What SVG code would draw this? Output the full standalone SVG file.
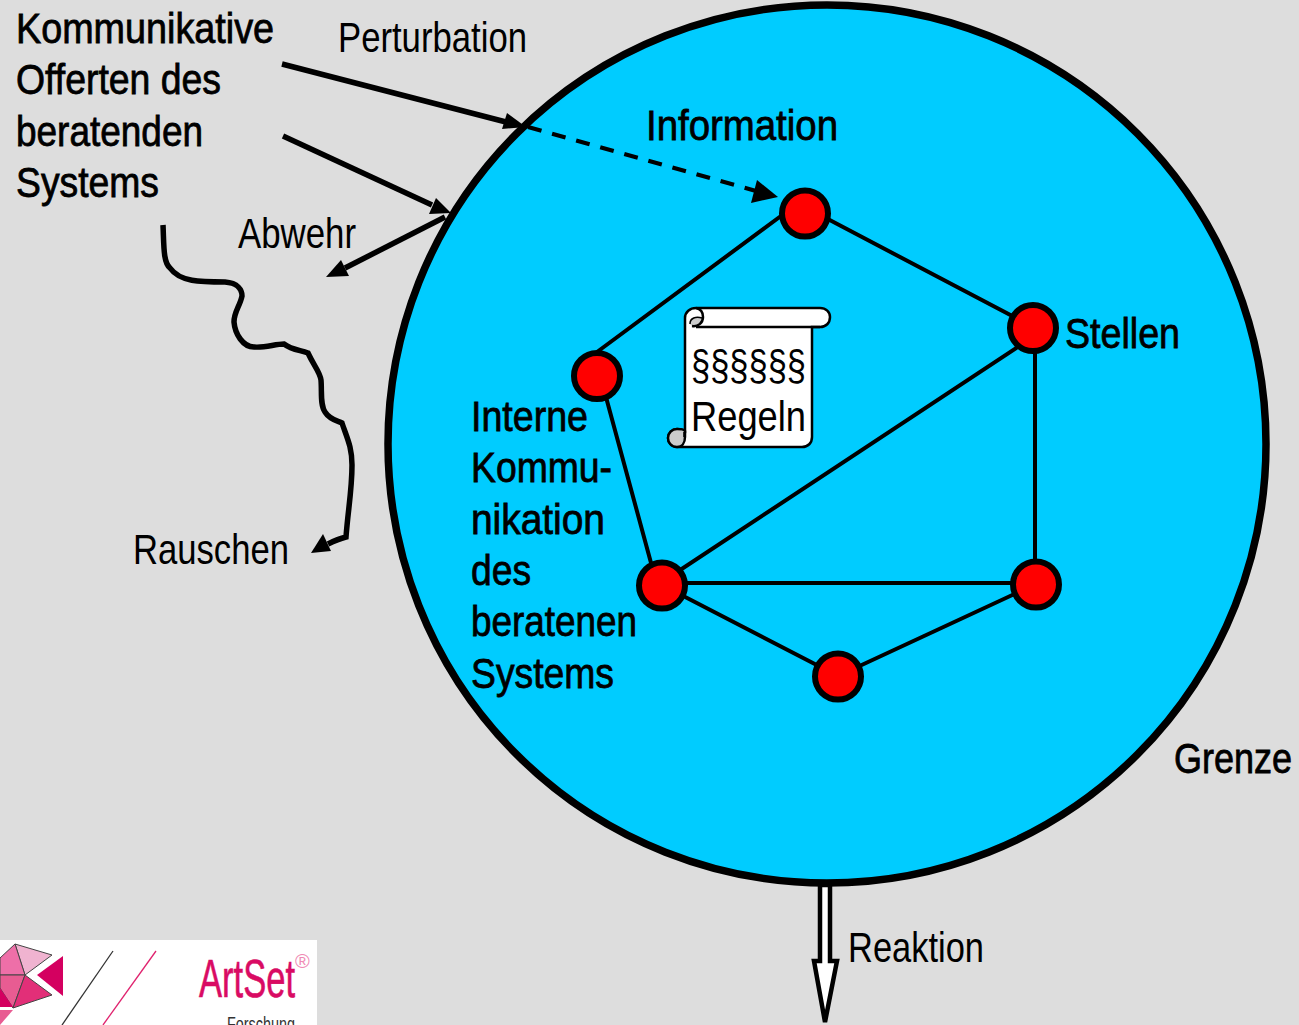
<svg xmlns="http://www.w3.org/2000/svg" width="1299" height="1025" viewBox="0 0 1299 1025">
<style>
text{font-family:"Liberation Sans",Arial,sans-serif;font-size:42px;fill:#000}
.b{font-size:43px;stroke:#000;stroke-width:.8px}
.e{fill:none;stroke:#000;stroke-width:4}
.n{fill:#f00;stroke:#000;stroke-width:6}
.a{fill:none;stroke:#000;stroke-width:5.5}
.h{fill:#000}
.s{stroke:#000;stroke-width:2.5}
.l{stroke:#444;stroke-width:1}
</style>
<rect width="1299" height="1025" fill="#dddddd"/>
<g id="boundary"><circle cx="827" cy="444" r="439" fill="#00ccff" stroke="#000" stroke-width="7.5"/></g>
<g id="connectors">
<path class="e" d="M805 207L1033 327M785 213L597 352M600 375L657 585M1033 337L662 582M1035 327V584M662 583H1036M662 585L838 676M1036 584L838 676"/>
<path class="a" d="M282 64L506 122"/>
<path class="h" d="M526 127L502 129L507 113Z"/>
<path class="a" style="stroke-width:4.2" stroke-dasharray="14 11" d="M528 127L756 191"/>
<path class="h" d="M778 197L751 203L757 180Z"/>
<path class="a" d="M283 136L432 205"/>
<path class="h" d="M451 213L429 214L436 198Z"/>
<path class="a" d="M445 217L345 268"/>
<path class="h" d="M326 277L341 260L349 276Z"/>
<path class="a" d="M163 225C164 245 163 262 170 268C180 282 200 282 225 282C238 283 242 290 242 296C240 306 234 312 234 322C235 334 243 347 254 347C265 348 275 344 284 344C292 350 300 350 308 353C314 366 320 372 321 380C322 392 320 405 325 412C330 420 338 421 342 423C347 438 352 447 352 465C352 490 348 510 346 537C342 538 336 540 328 544"/>
<path class="h" d="M311 553L323 534L331 551Z"/>
<path d="M820 885V961H814L825 1022L837 961H830V885Z" fill="#fff" stroke="#000" stroke-width="4.5"/>
</g>
<g id="node-top"><circle class="n" cx="805" cy="213.500" r="23"/></g>
<g id="node-right"><circle class="n" cx="1033" cy="328" r="23"/></g>
<g id="node-left"><circle class="n" cx="597" cy="376" r="23"/></g>
<g id="node-lower-left"><circle class="n" cx="662" cy="585.500" r="23"/></g>
<g id="node-lower-right"><circle class="n" cx="1036" cy="584.500" r="23"/></g>
<g id="node-bottom"><circle class="n" cx="838" cy="676.500" r="23"/></g>
<g id="scroll">
<path class="s" d="M685 431V318C685 312 690 308 696 308H820C826 308 830 312 830 317C830 323 826 327 820 327H812V437C812 443 808 447 802 447H677C671 447 668 442 668 438C668 433 672 429 677 429C682 429 685 431 685 431Z" fill="#fff"/>
<path class="s" d="M696 327H820" fill="none"/>
<path d="M702 318C703 323 698 326 693 326C688 325 688 319 693 318Z" fill="#ccc"/>
<path d="M702 318C696 316 690 318 690 324" fill="none" stroke="#000" stroke-width="1.500"/>
<path class="s" d="M696 308C701 309 703 313 703 317C703 323 698 327 692 326" fill="none"/>
<path class="s" d="M685 431C684 429 680 429 677 429C672 429 668 433 668 438C668 442 671 447 677 447C682 447 685 443 685 437Z" fill="#ccc"/>
<path d="M684 432V437" stroke="#000" stroke-width="1.5"/>
<text x="691" y="380" textLength="115" lengthAdjust="spacingAndGlyphs">§§§§§§</text>
<text x="691" y="431" textLength="115" lengthAdjust="spacingAndGlyphs">Regeln</text>
</g>
<g id="labels">
<text class="b" x="16" y="43" textLength="258" lengthAdjust="spacingAndGlyphs">Kommunikative</text>
<text class="b" x="16" y="94" textLength="205" lengthAdjust="spacingAndGlyphs">Offerten des</text>
<text class="b" x="16" y="146" textLength="187" lengthAdjust="spacingAndGlyphs">beratenden</text>
<text class="b" x="16" y="197" textLength="143" lengthAdjust="spacingAndGlyphs">Systems</text>
<text x="338" y="52" textLength="189" lengthAdjust="spacingAndGlyphs">Perturbation</text>
<text class="b" x="646" y="140" textLength="192" lengthAdjust="spacingAndGlyphs">Information</text>
<text x="238" y="248" textLength="118" lengthAdjust="spacingAndGlyphs">Abwehr</text>
<text class="b" x="1065" y="348" textLength="115" lengthAdjust="spacingAndGlyphs">Stellen</text>
<text class="b" x="471" y="431" textLength="117" lengthAdjust="spacingAndGlyphs">Interne</text>
<text class="b" x="471" y="482" textLength="141" lengthAdjust="spacingAndGlyphs">Kommu-</text>
<text class="b" x="471" y="534" textLength="134" lengthAdjust="spacingAndGlyphs">nikation</text>
<text class="b" x="471" y="585" textLength="60" lengthAdjust="spacingAndGlyphs">des</text>
<text class="b" x="471" y="636" textLength="166" lengthAdjust="spacingAndGlyphs">beratenen</text>
<text class="b" x="471" y="688" textLength="143" lengthAdjust="spacingAndGlyphs">Systems</text>
<text x="133" y="564" textLength="156" lengthAdjust="spacingAndGlyphs">Rauschen</text>
<text class="b" x="1174" y="773" textLength="118" lengthAdjust="spacingAndGlyphs">Grenze</text>
<text x="848" y="962" textLength="136" lengthAdjust="spacingAndGlyphs">Reaktion</text>
</g>
<g id="logo">
<rect y="940" width="317" height="85" fill="#fff"/>
<path class="l" d="M15 944L52 955L25 975Z" fill="#f0b3d0"/>
<path class="l" d="M15 944L25 975H0V958Z" fill="#ee6fa8"/>
<path class="l" d="M0 975H25L13 1008L0 988Z" fill="#e85c92"/>
<path class="l" d="M25 975L52 995L13 1008Z" fill="#e22f78"/>
<path d="M63 956V996L37 975Z" fill="#d40060"/>
<path d="M0 988L13 1007H0Z" fill="#d40060"/>
<path d="M0 1010H13L0 1025Z" fill="#e85c92"/>
<path d="M113 951L62 1025" stroke="#333" stroke-width="1.3" fill="none"/>
<path d="M156 951L103 1025" stroke="#e0226e" stroke-width="1.3" fill="none"/>
<text x="199" y="997" textLength="96" lengthAdjust="spacingAndGlyphs" style="font-size:54px;fill:#d90b63;stroke:#d90b63;stroke-width:.6px">ArtSet</text>
<text x="295" y="968" style="font-size:20px;fill:#f08ab5">®</text>
<text x="227" y="1031" textLength="68" lengthAdjust="spacingAndGlyphs" style="font-size:20px;fill:#333">Forschung</text>
</g>
</svg>
